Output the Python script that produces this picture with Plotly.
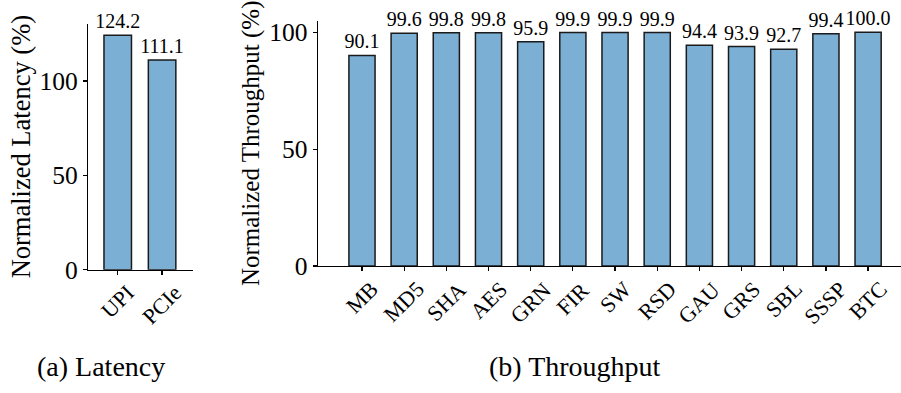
import plotly.graph_objects as go

# ---- data ----
lat_categories = ["UPI", "PCIe"]
lat_values = [124.2, 111.1]

thr_categories = ["MB", "MD5", "SHA", "AES", "GRN", "FIR", "SW", "RSD",
                  "GAU", "GRS", "SBL", "SSSP", "BTC"]
thr_values = [90.1, 99.6, 99.8, 99.8, 95.9, 99.9, 99.9, 99.9,
              94.4, 93.9, 92.7, 99.4, 100.0]

y_ticks = [0, 50, 100]
captions = ["(a) Latency", "(b) Throughput"]

# ---- style ----
W, H = 901, 393
FONT = "Liberation Serif"
BAR_COLOR = "#7BAFD4"
EDGE = "#1a1a1a"

fig = go.Figure()

for cats, vals, xa, ya in [(lat_categories, lat_values, "x", "y"),
                           (thr_categories, thr_values, "x2", "y2")]:
    fig.add_trace(go.Bar(
        x=list(range(len(cats))), y=vals, xaxis=xa, yaxis=ya,
        width=0.62,
        marker=dict(color=BAR_COLOR, line=dict(color=EDGE, width=1.5)),
        text=[f"{v:.1f}" for v in vals], textposition="outside",
        textfont=dict(family=FONT, size=20, color="black"),
        constraintext="none", cliponaxis=False, showlegend=False,
        hoverinfo="skip",
    ))

def px_x(p):
    return p / W

def px_y(p):
    return (H - p) / H

axis_common = dict(
    showline=True, linecolor="black", linewidth=1.2,
    ticks="outside", ticklen=4, tickwidth=1.2, tickcolor="black",
    showgrid=False, zeroline=False, automargin=False,
    tickfont=dict(family=FONT, size=25.5, color="black"),
)

fig.update_layout(
    template="none",
    width=W, height=H,
    margin=dict(l=0, r=0, t=0, b=0, autoexpand=False),
    plot_bgcolor="white", paper_bgcolor="white",
    font=dict(family=FONT, color="black"),
    xaxis=dict(**axis_common, domain=[px_x(88), px_x(192.7)],
               range=[-0.67, 1.69], tickvals=[0, 1], showticklabels=False,
               anchor="y"),
    yaxis=dict(**axis_common, domain=[px_y(269.7), px_y(23.6)],
               range=[0, 130.41], tickvals=y_ticks, anchor="x",
               title=dict(text="Normalized Latency (%)",
                          font=dict(family=FONT, size=26.5), standoff=1)),
    xaxis2=dict(**axis_common, domain=[px_x(317.7), 1.0],
                range=[-1.05, 12.78], tickvals=list(range(len(thr_categories))),
                showticklabels=False, anchor="y2"),
    yaxis2=dict(**axis_common, domain=[px_y(266), px_y(20.6)],
                range=[0, 105], tickvals=y_ticks, anchor="x2",
                title=dict(text="Normalized Throughput (%)",
                           font=dict(family=FONT, size=25), standoff=2)),
)

annotations = []
for cats, xr, yr in [(lat_categories, "x", "y"), (thr_categories, "x2", "y2")]:
    for i, c in enumerate(cats):
        annotations.append(dict(
            x=i, y=0, xref=xr, yref=yr, text=c, showarrow=False,
            textangle=-45, xanchor="center", yanchor="top", yshift=-8,
            font=dict(family=FONT, size=22, color="black"),
        ))

annotations.append(dict(x=px_x(100.5), y=px_y(366), xref="paper", yref="paper",
                        text=captions[0], showarrow=False, xanchor="center",
                        yanchor="middle", font=dict(family=FONT, size=28, color="black")))
annotations.append(dict(x=px_x(575), y=px_y(366), xref="paper", yref="paper",
                        text=captions[1], showarrow=False, xanchor="center",
                        yanchor="middle", font=dict(family=FONT, size=28, color="black")))
fig.update_layout(annotations=annotations)

fig.write_html("out.html",
               config={"displayModeBar": False, "staticPlot": True},
               post_script="document.body.style.margin='0px';"
                           "document.body.style.padding='0px';"
                           "document.body.style.overflow='hidden';")
